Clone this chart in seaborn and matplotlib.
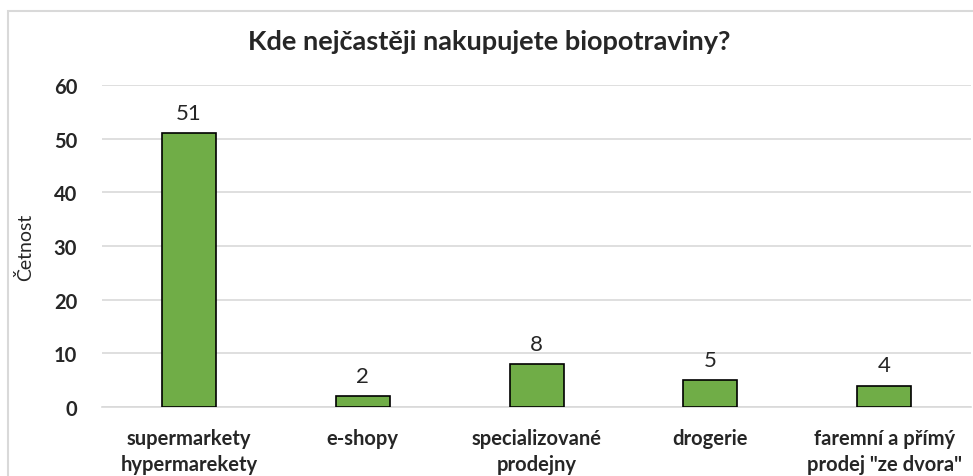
import matplotlib
matplotlib.use("Agg")
import matplotlib.pyplot as plt
import seaborn as sns
import pandas as pd
from matplotlib.patches import Rectangle

# data
categories = ['supermarkety\nhypermarekety', 'e-shopy', 'specializované\nprodejny',
              'drogerie', 'faremní a přímý\nprodej "ze dvora"']
counts = [51, 2, 8, 5, 4]
yticks = [0, 10, 20, 30, 40, 50, 60]

df = pd.DataFrame({'misto': categories, 'cetnost': counts})

sns.set_style("white")
plt.rcParams['font.family'] = ['Lato', 'DejaVu Sans']

fig = plt.figure(figsize=(9.73, 4.77), dpi=100)
ax = fig.add_axes([0.105, 0.1447, 0.893, 0.675])

sns.barplot(data=df, x='misto', y='cetnost', color='#70ad47', width=0.31,
            edgecolor='black', linewidth=1.2, saturation=1, ax=ax, zorder=3)

for i, v in enumerate(counts):
    ax.text(i, v + 1.9, str(v), ha='center', va='bottom', fontsize=16)

ax.set_ylim(0, 60)
ax.set_yticks(yticks)
ax.yaxis.grid(True, color='#d9d9d9', linewidth=1.2, zorder=0)
ax.set_axisbelow(True)
for s in ['top', 'right', 'left']:
    ax.spines[s].set_visible(False)
ax.spines['bottom'].set_color('#d9d9d9')
ax.spines['bottom'].set_linewidth(1.2)
ax.tick_params(axis='x', length=0, labelsize=14.5, pad=15)
ax.tick_params(axis='y', length=0, labelsize=14.5, pad=18)
for lbl in ax.get_xticklabels():
    lbl.set_fontweight('bold')
    lbl.set_linespacing(1.4)
for lbl in ax.get_yticklabels():
    lbl.set_fontweight('bold')
ax.set_xlabel('')
ax.set_ylabel('Četnost', fontsize=14, labelpad=14)

fig.text(0.503, 0.912, 'Kde nejčastěji nakupujete biopotraviny?', ha='center', va='center',
         fontsize=19.5, fontweight='bold')

# chart border
fig.patches.append(Rectangle((8 / 973, -0.1), 1.2, 1.0 - 12 / 477 + 0.1,
                             transform=fig.transFigure, fill=False,
                             edgecolor='#d9d9d9', linewidth=1.5))

fig.savefig('out.png', dpi=100)
